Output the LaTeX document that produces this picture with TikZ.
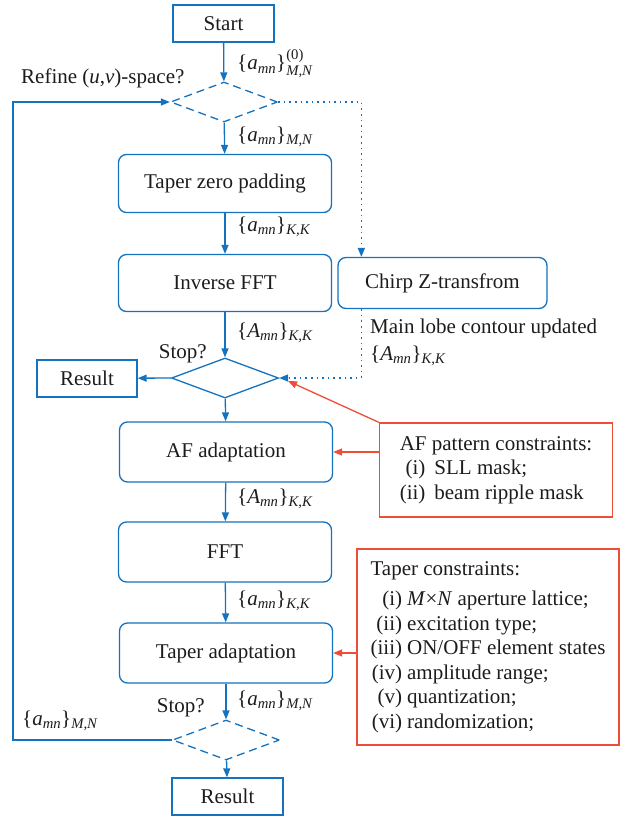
\documentclass[tikz,border=0pt]{standalone}
\usepackage{amsmath}
\usepackage{fontspec}
\setmainfont{Liberation Serif}
\usetikzlibrary{arrows.meta,shapes.geometric,calc}
\definecolor{fblue}{RGB}{20,114,190}
\definecolor{fred}{RGB}{238,78,56}
\definecolor{ftext}{RGB}{30,27,28}
\newcommand\setv[3]{$\text{\{}\textit{#1}_{\textit{mn}}\text{\}}#3_{\textit{#2}}$}
\begin{document}
\begin{tikzpicture}[x=1pt,y=-1pt,
  font=\fontsize{21}{24.5}\selectfont, text=ftext,
  box/.style={draw=fblue, line width=1.3pt, rounded corners=8pt, minimum width=213pt, minimum height=58pt, inner sep=0pt},
  term/.style={draw=fblue, line width=1.3pt, inner sep=0pt, minimum height=37pt},
  dia/.style={draw=fblue, line width=1.3pt, diamond, inner sep=0pt, minimum width=107pt, minimum height=40pt},
  dashdia/.style={dia, dash pattern=on 8pt off 5pt},
  cbox/.style={draw=fred, line width=1.3pt, inner sep=0pt},
  lbl/.style={inner sep=0pt, anchor=base west},
  flow/.style={draw=fblue, line width=1.3pt, -{Triangle[length=9pt,width=7pt]}},
  dotl/.style={draw=fblue, line width=1.6pt, dash pattern=on 1.6pt off 4pt, -{Triangle[length=9pt,width=7pt]}},
  redarr/.style={draw=fred, line width=1.3pt, -{Triangle[length=9pt,width=7pt]}}
]
\useasboundingbox (0,0) rectangle (622,816);

% main column
\node[term, minimum width=101pt] (start) at (223.5,23.5) {Start};
\node[dashdia] (refine) at (224,102) {};
\node[box] (tzp) at (225,183.5) {Taper zero padding};
\node[box, minimum height=57pt] (ifft) at (225,283) {Inverse FFT};
\node[box, minimum width=209pt, minimum height=51pt] (chirp) at (442.5,283) {Chirp Z-transfrom};
\node[dia] (stop) at (225,378) {};
\node[term, minimum width=100pt] (res1) at (87,378.5) {Result};
\node[box, minimum height=60pt] (afad) at (226,452) {AF adaptation};
\node[box, minimum height=60pt] (fft) at (225,552) {FFT};
\node[box, minimum height=60pt] (tad) at (226,653) {Taper adaptation};
\node[dashdia] (bstop) at (226,740) {};
\node[term, minimum width=111pt] (res2) at (227.5,796.5) {Result};

% constraint boxes
\node[cbox, minimum width=233pt, minimum height=94pt] (afbox) at (496,470) {%
  \begin{tabular}{@{}r@{\hspace{9pt}}l@{}}
  \multicolumn{2}{@{}l@{}}{AF pattern constraints:}\\
  (i) & SLL mask;\\
  (ii) & beam ripple mask
  \end{tabular}};
\node[cbox, minimum width=262pt, minimum height=196pt] (tcbox) at (488,647) {%
  \begin{tabular}{@{}r@{\hspace{5pt}}l@{}}
  \multicolumn{2}{@{}l@{}}{Taper constraints:}\\[6pt]
  (i) & \textit{M}×\textit{N} aperture lattice;\\
  (ii) & excitation type;\\
  (iii) & ON/OFF element states\\
  (iv) & amplitude range;\\
  (v) & quantization;\\
  (vi) & randomization;
  \end{tabular}};

% labels
\node[lbl, anchor=base west] (trefine) at (21,83) {Refine (\textit{u},\textit{v})-space?};
\node[lbl] (l0) at (237,70) {\setv{a}{M,N}{^{\text{(0)}}}};
\node[lbl] (l1) at (237,141) {\setv{a}{M,N}{}};
\node[lbl] (l2) at (237,231) {\setv{a}{K,K}{}};
\node[lbl] (l3) at (237,337) {\setv{A}{K,K}{}};
\node[lbl, anchor=base east] (tstop1) at (207,358) {Stop?};
\node[lbl] (tmain) at (370,333) {Main lobe contour updated};
\node[lbl] (l4) at (370,360) {\setv{A}{K,K}{}};
\node[lbl] (l5) at (237,503) {\setv{A}{K,K}{}};
\node[lbl] (l6) at (237,605) {\setv{a}{K,K}{}};
\node[lbl] (l7) at (237,705) {\setv{a}{M,N}{}};
\node[lbl, anchor=base east] (tstop2) at (205,712) {Stop?};
\node[lbl] (l8) at (22,725) {\setv{a}{M,N}{}};

% connectors
\draw[flow] (start) -- (refine);
\draw[flow] (refine) -- (tzp);
\draw[flow] (tzp) -- (ifft);
\draw[flow] (ifft) -- (stop);
\draw[flow] (stop.west) -- (res1);
\draw[flow] (stop) -- (afad);
\draw[flow] (afad) -- (fft);
\draw[flow] (fft) -- (tad);
\draw[flow] (tad) -- (bstop);
\draw[flow] (bstop) -- (res2);
\draw[flow] (bstop.west) -- ++(-159,0) |- (refine.west);
\draw[dotl] (refine.east) -| ([xshift=24pt]chirp.north west);
\draw[dotl] ([xshift=24pt]chirp.south west) |- (stop.east);
\coordinate (rtip) at (288,381);
\draw[redarr] (afbox.north west) -- (rtip);
\draw[redarr] (afad.east -| afbox.west) -- (afad.east);
\draw[redarr] (tad.east -| tcbox.west) -- (tad.east);
\end{tikzpicture}
\end{document}
